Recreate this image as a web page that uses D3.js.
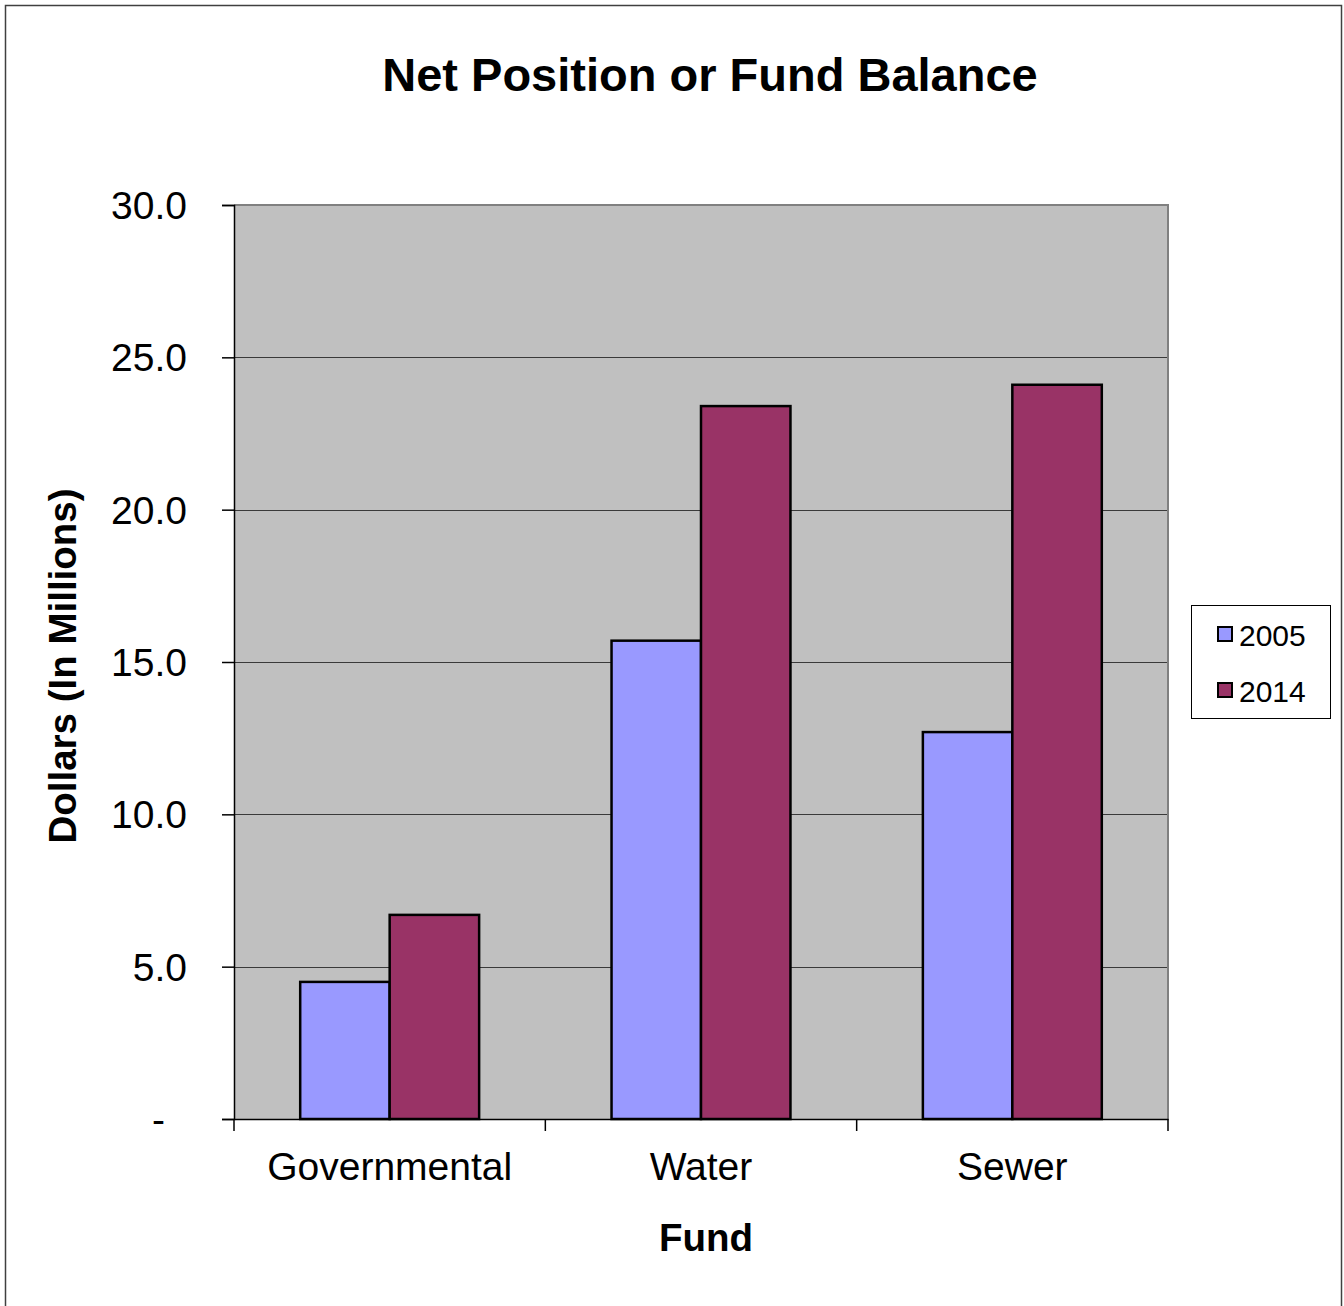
<!DOCTYPE html>
<html>
<head>
<meta charset="utf-8">
<script src="https://cdn.jsdelivr.net/npm/d3@7"></script>
<style>
  html, body { margin: 0; padding: 0; background: #fff; }
  svg { display: block; font-family: "Liberation Sans", Arial, sans-serif; }
</style>
</head>
<body>
<svg id="chart" width="1344" height="1306"></svg>
<script>
const categories = ["Governmental", "Water", "Sewer"];
const seriesNames = ["2005", "2014"];
const values2005 = [4.5, 15.7, 12.7];
const values2014 = [6.7, 23.4, 24.1];
const yTicks = [0, 5, 10, 15, 20, 25, 30];
const colors = ["#9999FF", "#993366"];

const svg = d3.select("#chart");
const plot = { left: 234, right: 1168, top: 205, bottom: 1119 };

// outer frame
svg.append("rect")
  .attr("x", 5.5).attr("y", 5.5)
  .attr("width", 1336).attr("height", 1310)
  .attr("fill", "#fff").attr("stroke", "#404040").attr("stroke-width", 1.5);

const x0 = d3.scaleBand().domain(categories).range([plot.left, plot.right]).paddingInner(0).paddingOuter(0);
const x1 = d3.scaleBand().domain(seriesNames).range([0, x0.bandwidth()]).paddingInner(0).paddingOuter(0.74);
const y = d3.scaleLinear().domain([0, 30]).range([plot.bottom, plot.top]);

// plot background
svg.append("rect")
  .attr("x", plot.left).attr("y", plot.top)
  .attr("width", plot.right - plot.left).attr("height", plot.bottom - plot.top)
  .attr("fill", "#C0C0C0");

// gridlines
svg.append("g").selectAll("line").data(yTicks.filter(t => t > 0 && t < 30)).join("line")
  .attr("x1", plot.left).attr("x2", plot.right)
  .attr("y1", d => Math.round(y(d)) + 0.5).attr("y2", d => Math.round(y(d)) + 0.5)
  .attr("stroke", "#3a3a3a").attr("stroke-width", 1);

// plot border top/right
svg.append("path")
  .attr("d", `M${plot.left},${plot.top} H${plot.right} V${plot.bottom}`)
  .attr("fill", "none").attr("stroke", "#808080").attr("stroke-width", 2);

// bars
const rows = categories.map((c, i) => ({ cat: c, vals: [values2005[i], values2014[i]] }));
const gCat = svg.append("g").selectAll("g").data(rows).join("g")
  .attr("transform", d => `translate(${x0(d.cat)},0)`);
gCat.selectAll("rect").data(d => d.vals.map((v, j) => ({ v, s: seriesNames[j], j }))).join("rect")
  .attr("x", d => x1(d.s))
  .attr("width", x1.bandwidth())
  .attr("y", d => y(d.v))
  .attr("height", d => y(0) - y(d.v))
  .attr("fill", d => colors[d.j])
  .attr("stroke", "#000").attr("stroke-width", 2.5);

// y axis
const yAxis = d3.axisLeft(y).tickValues(yTicks).tickSize(12).tickPadding(0)
  .tickFormat(d => d === 0 ? "-" : d3.format(".1f")(d));
const gy = svg.append("g").attr("transform", `translate(${plot.left},0)`).call(yAxis);
gy.select(".domain").attr("stroke", "#000").attr("stroke-width", 1.5);
gy.selectAll(".tick line").attr("stroke", "#000").attr("stroke-width", 1.5);
gy.selectAll(".tick text")
  .attr("x", d => d === 0 ? -69 : -47)
  .attr("dy", "0.35em")
  .attr("font-size", 39).attr("fill", "#000")
  .attr("font-family", "Liberation Sans, Arial, sans-serif");

// x axis
const xAxis = d3.axisBottom(x0).tickSize(0).tickPadding(0);
const gx = svg.append("g").attr("transform", `translate(0,${plot.bottom})`).call(xAxis);
gx.select(".domain").attr("stroke", "#000").attr("stroke-width", 1.5);
gx.selectAll(".tick text")
  .attr("y", 61).attr("dy", 0)
  .attr("font-size", 39).attr("fill", "#000")
  .attr("font-family", "Liberation Sans, Arial, sans-serif");
// category separator ticks
const sepPositions = categories.map(c => x0(c)).concat([x0(categories[categories.length - 1]) + x0.bandwidth()]);
gx.append("g").selectAll("line").data(sepPositions).join("line")
  .attr("x1", d => d).attr("x2", d => d)
  .attr("y1", 0).attr("y2", 12)
  .attr("stroke", "#000").attr("stroke-width", 1.5);

// title
svg.append("text")
  .attr("x", 710).attr("y", 91)
  .attr("text-anchor", "middle")
  .attr("font-size", 47).attr("font-weight", "bold")
  .text("Net Position or Fund Balance");

// x axis title
svg.append("text")
  .attr("x", 706).attr("y", 1251)
  .attr("text-anchor", "middle")
  .attr("font-size", 38.5).attr("font-weight", "bold")
  .text("Fund");

// y axis title
svg.append("text")
  .attr("transform", "translate(76,666) rotate(-90)")
  .attr("text-anchor", "middle")
  .attr("font-size", 38.5).attr("font-weight", "bold")
  .text("Dollars (In Millions)");

// legend
const lg = svg.append("g");
lg.append("rect")
  .attr("x", 1191.5).attr("y", 605.5).attr("width", 139).attr("height", 113)
  .attr("fill", "#fff").attr("stroke", "#000").attr("stroke-width", 1);
const items = lg.selectAll("g.item").data(seriesNames).join("g").attr("class", "item")
  .attr("transform", (d, i) => `translate(0,${i * 56})`);
items.append("rect")
  .attr("x", 1218).attr("y", 627).attr("width", 14).attr("height", 14)
  .attr("fill", (d, i) => colors[i]).attr("stroke", "#000").attr("stroke-width", 2);
items.append("text")
  .attr("x", 1239).attr("y", 646)
  .attr("font-size", 30)
  .text(d => d);
</script>
</body>
</html>
